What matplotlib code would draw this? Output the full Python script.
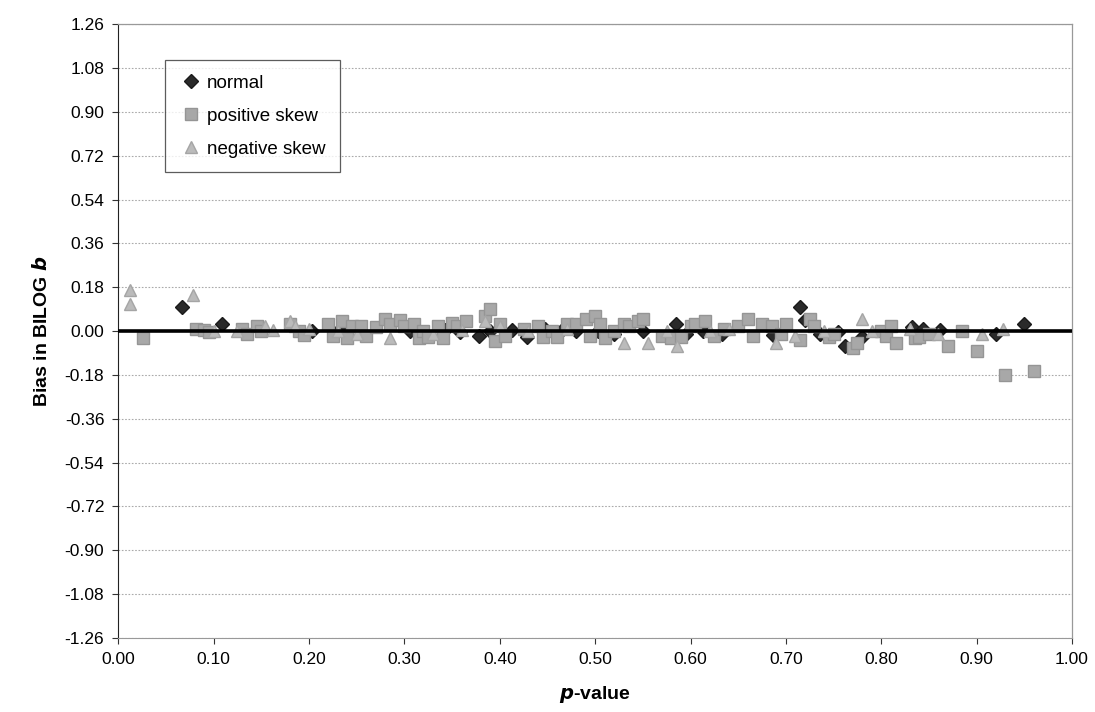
import matplotlib.pyplot as plt
import numpy as np

plt.rcParams['font.family'] = ['Liberation Sans', 'DejaVu Sans']

# -------------------------
# Data
# -------------------------
normal_x = [0.067, 0.109, 0.203, 0.233, 0.306, 0.343, 0.358, 0.378, 0.390, 0.413,
            0.429, 0.447, 0.466, 0.480, 0.503, 0.520, 0.550, 0.585, 0.595, 0.613,
            0.633, 0.687, 0.715, 0.720, 0.736, 0.755, 0.762, 0.780, 0.832, 0.844,
            0.862, 0.920, 0.950]
normal_y = [0.100, 0.030, 0.000, 0.010, 0.000, 0.005, -0.005, -0.020, 0.000, 0.005,
            -0.025, 0.010, 0.010, 0.000, 0.000, -0.010, 0.000, 0.030, -0.010, 0.000,
            -0.010, -0.015, 0.100, 0.045, -0.010, -0.005, -0.060, -0.025, 0.015, 0.010,
            0.005, -0.010, 0.030]

pos_x = [0.026, 0.082, 0.090, 0.095, 0.130, 0.135, 0.145, 0.150, 0.180, 0.190,
         0.195, 0.220, 0.225, 0.235, 0.240, 0.245, 0.255, 0.260, 0.270, 0.280,
         0.285, 0.295, 0.300, 0.310, 0.315, 0.320, 0.325, 0.335, 0.340, 0.350,
         0.355, 0.365, 0.385, 0.390, 0.395, 0.400, 0.405, 0.425, 0.440, 0.445,
         0.455, 0.460, 0.470, 0.480, 0.490, 0.495, 0.500, 0.505, 0.510, 0.520,
         0.530, 0.535, 0.545, 0.550, 0.570, 0.580, 0.590, 0.600, 0.605, 0.615,
         0.625, 0.635, 0.650, 0.660, 0.665, 0.675, 0.685, 0.695, 0.700, 0.715,
         0.725, 0.730, 0.745, 0.750, 0.770, 0.775, 0.800, 0.805, 0.810, 0.815,
         0.835, 0.840, 0.850, 0.870, 0.885, 0.900, 0.930, 0.960]
pos_y = [-0.030, 0.010, 0.005, -0.005, 0.010, -0.010, 0.020, 0.000, 0.030, 0.000,
         -0.015, 0.030, -0.020, 0.040, -0.030, 0.020, 0.020, -0.020, 0.015, 0.050,
         0.030, 0.045, 0.020, 0.030, -0.030, 0.000, -0.025, 0.020, -0.030, 0.035,
         0.020, 0.040, 0.060, 0.090, -0.040, 0.030, -0.020, 0.010, 0.020, -0.025,
         0.000, -0.025, 0.030, 0.030, 0.050, -0.020, 0.060, 0.030, -0.030, 0.000,
         0.030, 0.020, 0.040, 0.050, -0.020, -0.030, -0.025, 0.020, 0.030, 0.040,
         -0.020, 0.010, 0.020, 0.050, -0.020, 0.030, 0.020, -0.010, 0.030, -0.035,
         0.050, 0.020, -0.025, -0.010, -0.070, -0.050, 0.000, -0.020, 0.020, -0.050,
         -0.030, -0.025, -0.010, -0.060, 0.000, -0.080, -0.180, -0.165]

neg_x = [0.012, 0.012, 0.078, 0.100, 0.125, 0.154, 0.162, 0.180, 0.185, 0.200,
         0.230, 0.250, 0.285, 0.330, 0.360, 0.385, 0.400, 0.430, 0.470, 0.530,
         0.555, 0.575, 0.586, 0.620, 0.640, 0.690, 0.710, 0.740, 0.780, 0.790,
         0.830, 0.860, 0.906, 0.928]
neg_y = [0.170, 0.110, 0.150, 0.000, 0.000, 0.020, 0.005, 0.040, 0.020, 0.010,
         0.000, -0.010, -0.030, -0.010, 0.005, 0.040, 0.020, 0.000, 0.010, -0.050,
         -0.050, 0.000, -0.060, 0.000, 0.010, -0.050, -0.020, 0.000, 0.050, 0.000,
         0.010, -0.010, -0.010, 0.010]

y_ticks = np.round(np.arange(-1.26, 1.27, 0.18), 2) + 0.0
x_ticks = np.round(np.arange(0.0, 1.01, 0.1), 2) + 0.0

# -------------------------
# Figure
# -------------------------
fig = plt.figure(figsize=(10.95, 7.12), dpi=100)
ax = fig.add_axes([0.108, 0.104, 0.871, 0.862])

ax.plot(normal_x, normal_y, linestyle='none', marker='D', markersize=7.5,
        color='#2a2a2a', markeredgecolor='#1a1a1a', label='normal', zorder=3)
ax.plot(pos_x, pos_y, linestyle='none', marker='s', markersize=8.5,
        color='#a8a8a8', markeredgecolor='#959595', label='positive skew', zorder=4)
ax.plot(neg_x, neg_y, linestyle='none', marker='^', markersize=8.5,
        color='#bbbbbb', markeredgecolor='#a5a5a5', label='negative skew', zorder=5)

# zero reference line
ax.plot([0, 1], [0, 0], color='black', linewidth=2.6, zorder=6)

ax.set_xlim(0, 1)
ax.set_ylim(-1.26, 1.26)
ax.set_yticks(y_ticks)
ax.set_yticklabels([f"{abs(v):.2f}" if abs(v) < 1e-9 else f"{v:.2f}" for v in y_ticks])
ax.set_xticks(x_ticks)
ax.set_xticklabels([f"{v:.2f}" for v in x_ticks])
ax.tick_params(labelsize=12.5, length=4, width=0.8, color='#333333', pad=6)

ax.yaxis.grid(True, color='#aaaaaa', linestyle=(0, (1.5, 1.5)), linewidth=0.8)
ax.set_axisbelow(True)

for side in ['top', 'right']:
    ax.spines[side].set_color('#999999')
    ax.spines[side].set_linewidth(0.9)
ax.spines['left'].set_color('#222222')
ax.spines['bottom'].set_color('#999999')

ax.set_ylabel("Bias in BILOG $\\boldsymbol{b}$", fontsize=14, fontweight='bold', labelpad=10)
ax.set_xlabel("$\\boldsymbol{p}$-value", fontsize=14, fontweight='bold', labelpad=12)

leg = ax.legend(loc='upper left', bbox_to_anchor=(0.049, 0.941), borderaxespad=0,
                fontsize=13.5, frameon=True, fancybox=False, labelspacing=0.85,
                handletextpad=0.2, handlelength=1.3, borderpad=0.75)
leg.get_frame().set_edgecolor('#333333')
leg.get_frame().set_linewidth(0.9)

fig.savefig("out.png", dpi=100)
plt.close()
